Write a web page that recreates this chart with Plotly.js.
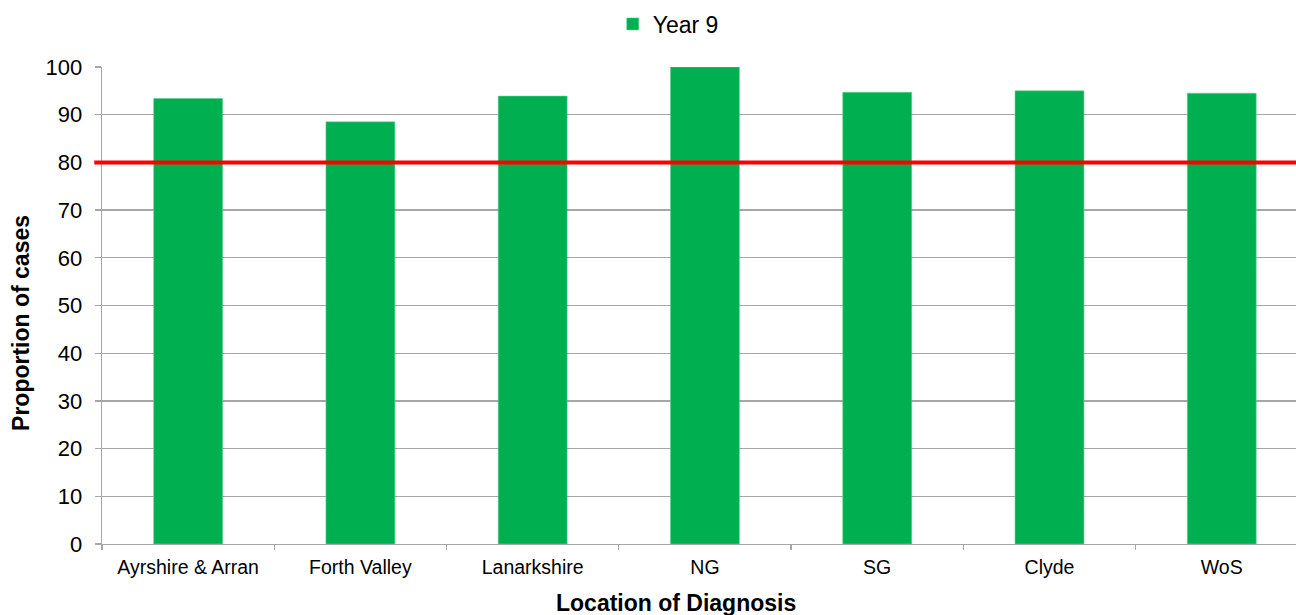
<!DOCTYPE html>
<html>
<head>
<meta charset="utf-8">
<script src="https://cdn.plot.ly/plotly-3.0.1.min.js"></script>
<style>
  html, body { margin: 0; padding: 0; background: #ffffff; }
  #chart { width: 1296px; height: 615px; }
</style>
</head>
<body>
<div id="chart"></div>
<script>
// Proportion of cases by location of diagnosis, Year 9
const locations = ['Ayrshire & Arran', 'Forth Valley', 'Lanarkshire', 'NG', 'SG', 'Clyde', 'WoS'];
const year9 = [93.4, 88.5, 93.9, 100, 94.7, 95.0, 94.5];
const seriesName = 'Year 9';
const target = 80;
const yTicks = [0, 10, 20, 30, 40, 50, 60, 70, 80, 90, 100];

const FONT = 'Liberation Sans, Arial, sans-serif';
const GRID = '#a6a6a6';

const trace = {
  type: 'bar',
  name: seriesName,
  x: locations,
  y: year9,
  width: 0.4,
  marker: { color: '#00b050', line: { color: '#5cd08c', width: 0.6 } },
  showlegend: true,
  hoverinfo: 'x+y'
};

const layout = {
  width: 1296,
  height: 615,
  margin: { l: 102, r: 0, t: 67, b: 71, pad: 0, autoexpand: false },
  paper_bgcolor: '#ffffff',
  plot_bgcolor: '#ffffff',
  font: { family: FONT, color: '#000000' },
  showlegend: true,
  legend: {
    orientation: 'h',
    xref: 'container', yref: 'container',
    x: 0.4728, xanchor: 'left',
    y: 0.961, yanchor: 'middle',
    font: { family: FONT, size: 23, color: '#000000' },
    itemwidth: 30,
    bgcolor: 'rgba(0,0,0,0)'
  },
  xaxis: {
    type: 'category',
    range: [-0.5, 6.431],
    showgrid: false,
    showline: true,
    linecolor: GRID,
    linewidth: 1.3,
    ticks: 'outside',
    tickson: 'boundaries',
    ticklen: 5,
    tickcolor: GRID,
    tickwidth: 1.3,
    ticklabelstandoff: 5,
    tickfont: { family: FONT, size: 19.5, color: '#000000' },
    automargin: false,
    fixedrange: true
  },
  yaxis: {
    range: [0, 100],
    tickvals: yTicks,
    ticktext: yTicks.map(String),
    showgrid: true,
    gridcolor: GRID,
    gridwidth: 1.3,
    zeroline: false,
    showline: true,
    linecolor: GRID,
    linewidth: 1.3,
    ticks: 'outside',
    ticklen: 6,
    tickcolor: GRID,
    tickwidth: 1.3,
    ticklabelstandoff: 8,
    tickfont: { family: FONT, size: 22, color: '#000000' },
    automargin: false,
    fixedrange: true
  },
  shapes: [{
    type: 'line',
    xref: 'paper', yref: 'y',
    x0: -0.0065, x1: 1,
    y0: target, y1: target,
    line: { color: '#ff0000', width: 4 },
    layer: 'above'
  }],
  annotations: [
    {
      text: '<b>Location of Diagnosis</b>',
      xref: 'paper', yref: 'paper',
      x: 0.4805, y: -0.123,
      xanchor: 'center', yanchor: 'middle',
      showarrow: false,
      font: { family: FONT, size: 23, color: '#000000' }
    },
    {
      text: '<b>Proportion of cases</b>',
      xref: 'paper', yref: 'paper',
      x: -0.068, y: 0.463,
      xanchor: 'center', yanchor: 'middle',
      textangle: -90,
      showarrow: false,
      font: { family: FONT, size: 23, color: '#000000' }
    }
  ]
};

Plotly.newPlot('chart', [trace], layout, { displayModeBar: false, staticPlot: true });
</script>
</body>
</html>
